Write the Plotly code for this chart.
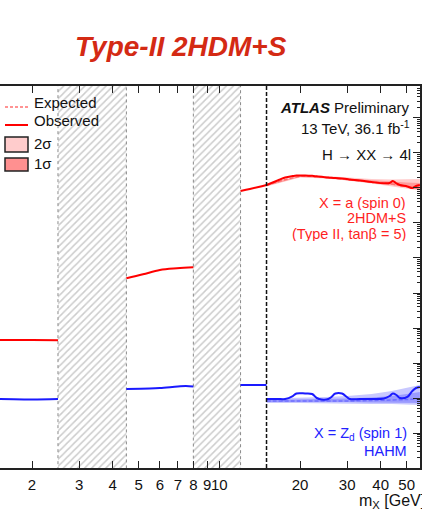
import plotly.graph_objects as go

# ---------------- data ----------------
# low-mass segment (below first excluded window)
mass_low = [1.0, 1.5, 2.0, 2.5]
obs_a_low = [4.5e-3, 4.55e-3, 4.55e-3, 4.5e-3]
obs_zd_low = [9.4e-5, 9.36e-5, 9.1e-5, 9.36e-5]

# between the two excluded windows
mass_mid_a = [4.5, 5.19, 6.0, 6.95, 8.0]
obs_a_mid = [0.263, 0.342, 0.454, 0.508, 0.542]
mass_mid_zd = [4.5, 5.5, 6.0, 7.0, 7.5, 8.0]
obs_zd_mid = [1.81e-4, 1.87e-4, 1.93e-4, 2.13e-4, 2.20e-4, 2.13e-4]

# between second window and 15 GeV
mass_gap = [12.0, 13.0, 14.0, 15.0]
obs_a_gap = [82.1, 93.6, 106.8, 121.8]
obs_zd_gap = [2.35e-4, 2.35e-4, 2.35e-4, 2.35e-4]

# high-mass analysis (15 - 60 GeV)
mass_high = [15.0, 16.5, 17.6, 18.8, 19.4, 20.9, 22.2, 23.1, 24.1, 25.5, 26.2, 27.1, 28.7,
             29.9, 30.7, 33.5, 37.0, 41.1, 43.2, 44.4, 45.8, 47.2, 50.3, 52.5, 54.2, 56.0]
obs_a_high = [121.8, 163.8, 199.5, 220, 227, 227, 222, 215, 208, 200, 195, 193, 186.8,
              180.8, 175, 163.8, 148.4, 136.2, 139, 158.5, 134.5, 121.8, 110.4, 100, 114.1, 121.8]
obs_zd_high = [9.36e-5, 9.36e-5, 9.36e-5, 1.14e-4, 1.345e-4, 1.345e-4, 1.30e-4, 1.0e-4, 9.06e-5,
               9.36e-5, 1.07e-4, 1.345e-4, 1.345e-4, 1.07e-4, 9.36e-5, 9.36e-5, 9.36e-5, 9.67e-5,
               1.14e-4, 1.345e-4, 1.22e-4, 1.0e-4, 1.07e-4, 1.585e-4, 1.93e-4, 2.06e-4]

mass_band = [15, 20, 25, 30, 37, 44, 50, 56]
exp_a = [117.9, 213, 199.5, 175, 148.4, 130.1, 110.4, 96.8]
a_2s_up = [130.1, 227.6, 220, 199.5, 180.8, 175, 175, 180.8]
a_2s_dn = [110.4, 199.5, 186.8, 163.8, 134.5, 114.1, 96.8, 84.9]
a_1s_up = [125.9, 220, 206, 186.8, 163.8, 153.4, 143.6, 139]
a_1s_dn = [114.1, 206, 193, 169.3, 139, 121.8, 103.3, 90.6]

exp_zd = [8.21e-5, 8.21e-5, 8.21e-5, 8.21e-5, 8.48e-5, 8.77e-5, 9.06e-5, 9.36e-5]
zd_2s_up = [9.67e-5, 1.0e-4, 1.07e-4, 1.14e-4, 1.30e-4, 1.585e-4, 1.93e-4, 2.35e-4]
zd_2s_dn = [7.20e-5, 7.20e-5, 7.20e-5, 6.97e-5, 6.74e-5, 6.74e-5, 6.52e-5, 6.31e-5]
zd_1s_up = [8.77e-5, 9.06e-5, 9.36e-5, 9.67e-5, 1.033e-4, 1.14e-4, 1.30e-4, 1.48e-4]
zd_1s_dn = [7.69e-5, 7.69e-5, 7.69e-5, 7.69e-5, 7.44e-5, 7.44e-5, 7.20e-5, 7.20e-5]

excluded_windows = [(2.5, 4.5), (8.0, 12.0)]
analysis_boundary = 15.0

x_tickvals = [2, 3, 4, 5, 6, 7, 8, 9, 10, 20, 30, 40, 50]
x_ticktext = ["2", "3", "4", "5", "6", "7", "8", "9", "10", "20", "30", "40", "50"]

# ---------------- styling ----------------
RED = "#ff0000"
BLUE = "#1a1aff"
RED_TXT = "#ff1f1f"
BLUE_TXT = "#2222ff"
FONT = "Liberation Sans, Arial, Helvetica, sans-serif"
X_RANGE = [0.1816, 1.7488]   # log10
Y_RANGE = [-6.0, 4.914]       # log10
Y_LO, Y_HI = 1e-8, 1e7        # beyond the axis range (for full-height hatch)

fig = go.Figure()


def band(x, up, dn, color):
    fig.add_trace(go.Scatter(x=list(x) + list(x)[::-1], y=list(up) + list(dn)[::-1],
                             fill="toself", fillcolor=color, line=dict(width=0),
                             mode="lines", hoverinfo="skip", showlegend=False))


band(mass_band, a_2s_up, a_2s_dn, "#ffcccc")
band(mass_band, a_1s_up, a_1s_dn, "#ff9c9c")
band(mass_band, zd_2s_up, zd_2s_dn, "#c8c8ff")
band(mass_band, zd_1s_up, zd_1s_dn, "#9a9aff")

# excluded windows (hatched)
for lo, hi in excluded_windows:
    fig.add_trace(go.Scatter(
        x=[lo, hi, hi, lo, lo], y=[Y_LO, Y_LO, Y_HI, Y_HI, Y_LO],
        fill="toself", fillcolor="white", mode="lines",
        line=dict(color="#8a8a8a", width=1, dash="dot"),
        fillpattern=dict(shape="/", fgcolor="#9a9a9a", bgcolor="white", size=5, solidity=0.3),
        hoverinfo="skip", showlegend=False))

# expected (dashed)
fig.add_trace(go.Scatter(x=mass_band, y=exp_a, mode="lines", line=dict(color="#ff7070", width=1.5, dash="4px,2px"),
                         line_shape="spline", showlegend=False))
fig.add_trace(go.Scatter(x=mass_band, y=exp_zd, mode="lines", line=dict(color="#7070ff", width=1.5, dash="4px,2px"),
                         line_shape="spline", showlegend=False))

# observed
for xs, ys, c in [(mass_low, obs_a_low, RED), (mass_mid_a, obs_a_mid, RED), (mass_gap, obs_a_gap, RED),
                  (mass_high, obs_a_high, RED),
                  (mass_low, obs_zd_low, BLUE), (mass_mid_zd, obs_zd_mid, BLUE), (mass_gap, obs_zd_gap, BLUE),
                  (mass_high, obs_zd_high, BLUE)]:
    fig.add_trace(go.Scatter(x=xs, y=ys, mode="lines", line=dict(color=c, width=2),
                             line_shape="spline", showlegend=False))

# ---------------- layout ----------------
W, H = 422, 523
L, R, T, B = 0, 2, 86, 55
PW, PH = W - L - R, H - T - B


def px(x):
    return (x - L) / PW


def py(y):
    return (H - B - y) / PH


annotations = []


def txt(text, x, y, anchor, size=15, color="#111", **kw):
    annotations.append(dict(text=text, x=px(x), y=py(y), xref="paper", yref="paper",
                            xanchor=anchor, yanchor="middle", showarrow=False,
                            font=dict(family=FONT, size=size, color=color), **kw))


txt("<b><i>Type-II 2HDM+S</i></b>", 73, 47, "left", size=28, color="#d42a14")
txt("Expected", 32, 102, "left")
txt("Observed", 32, 120, "left")
txt("2σ", 32, 143, "left")
txt("1σ", 32, 163, "left")
txt("<b><i>ATLAS</i></b> Preliminary", 412, 107, "right")
txt("13 TeV, 36.1 fb<sup>-1</sup>", 412, 127, "right")
txt("H → XX → 4l", 413, 154, "right")
txt("X = a (spin 0)", 408, 202, "right", size=14.5, color=RED_TXT, height=15)
txt("2HDM+S", 408, 217.5, "right", size=14.5, color=RED_TXT, height=15)
txt("(Type II, tanβ = 5)", 408, 233, "right", size=14.5, color=RED_TXT, height=15)
txt("X = Z<sub>d</sub> (spin 1)", 409, 434, "right", size=14.5, color=BLUE_TXT)
txt("HAHM", 409, 451, "right", size=14.5, color=BLUE_TXT)
txt("m<sub>X</sub> [GeV]", 357, 501, "left", size=16)

shapes = [
    dict(type="line", xref="x", yref="paper", x0=analysis_boundary, x1=analysis_boundary, y0=0, y1=1,
         line=dict(color="#111", width=1.5, dash="4px,2px")),
    # legend samples
    dict(type="line", xref="paper", yref="paper", x0=px(5), x1=px(28), y0=py(107), y1=py(107),
         line=dict(color="#ff7070", width=1.5, dash="3px,2px")),
    dict(type="line", xref="paper", yref="paper", x0=px(5), x1=px(28), y0=py(125), y1=py(125),
         line=dict(color=RED, width=2)),
    dict(type="rect", xref="paper", yref="paper", x0=px(5), x1=px(28), y0=py(152), y1=py(137),
         fillcolor="#ffcccc", line=dict(color="#222", width=1.5)),
    dict(type="rect", xref="paper", yref="paper", x0=px(5), x1=px(28), y0=py(171), y1=py(158),
         fillcolor="#ff9090", line=dict(color="#222", width=1.5)),
]

y_minor = [k * 10.0 ** n for n in range(-7, 6) for k in range(2, 10)]

fig.update_layout(
    width=W, height=H, margin=dict(l=L, r=R, t=T, b=B),
    paper_bgcolor="white", plot_bgcolor="white",
    showlegend=False, annotations=annotations, shapes=shapes,
    xaxis=dict(type="log", range=X_RANGE, tickvals=x_tickvals, ticktext=x_ticktext,
               tickangle=0, ticklabelstandoff=2,
               ticks="inside", ticklen=7, tickwidth=1.3, tickcolor="#222",
               showline=True, linecolor="#222", linewidth=2, mirror="ticks",
               showgrid=False, zeroline=False,
               tickfont=dict(family=FONT, size=15, color="#111")),
    xaxis2=dict(type="log", range=X_RANGE, overlaying="x", anchor="y", side="bottom",
                tickvals=[10], ticks="inside", ticklen=12, tickwidth=1.3, tickcolor="#222",
                showticklabels=False, showline=False, mirror="ticks", showgrid=False, zeroline=False),
    yaxis=dict(type="log", range=Y_RANGE, side="right", dtick=1,
               ticks="inside", ticklen=7, tickwidth=1.3, tickcolor="#222",
               showticklabels=False, showline=True, linecolor="#222", linewidth=2,
               showgrid=False, zeroline=False,
               minor=dict(tickvals=y_minor, ticks="inside", ticklen=3, tickwidth=1, tickcolor="#222",
                          showgrid=False)),
)

fig.write_html("out.html")
